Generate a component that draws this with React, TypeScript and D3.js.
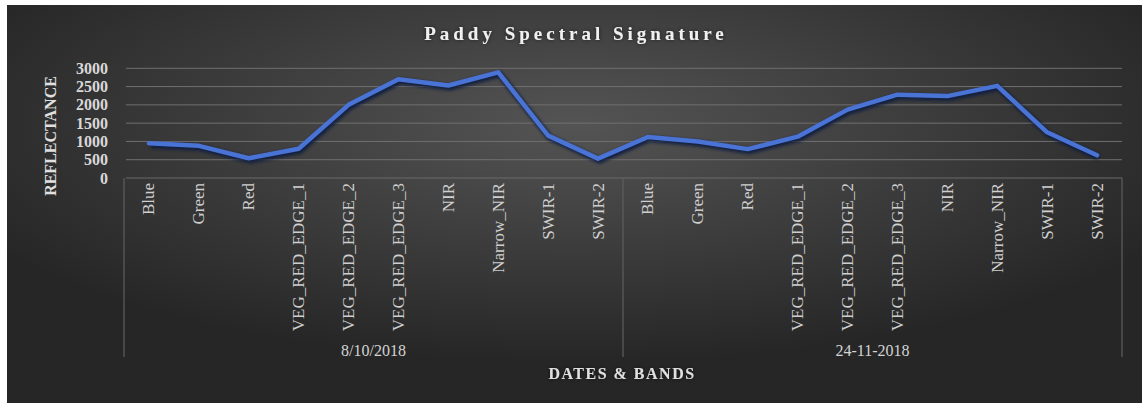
import React from "react";
import * as d3 from "d3";

const bands = ["Blue", "Green", "Red", "VEG_RED_EDGE_1", "VEG_RED_EDGE_2", "VEG_RED_EDGE_3", "NIR", "Narrow_NIR", "SWIR-1", "SWIR-2"];
const dates = ["8/10/2018", "24-11-2018"];
const valuesDate1 = [950, 880, 540, 800, 2000, 2700, 2530, 2890, 1160, 530];
const valuesDate2 = [1120, 1000, 790, 1130, 1870, 2280, 2240, 2520, 1250, 620];
const yTicks = [0, 500, 1000, 1500, 2000, 2500, 3000];
const title = "Paddy Spectral Signature";
const xTitle = "DATES & BANDS";
const yTitle = "REFLECTANCE";

const W = 1142;
const H = 403;
const FONT = "'Liberation Serif', 'Times New Roman', serif";

export default function App() {
  const cats = dates.flatMap((d, di) => bands.map((b, bi) => ({ key: `${di}-${bi}`, band: b, date: d })));
  const values = [...valuesDate1, ...valuesDate2];
  const left = 124, right = 1122, top = 68.3, bottom = 178;
  const x = d3.scaleBand<string>().domain(cats.map((c) => c.key)).range([left, right]).padding(0);
  const y = d3.scaleLinear().domain([0, 3000]).range([bottom, top]);
  const pts = cats.map((c, i) => [x(c.key)! + x.bandwidth() / 2, y(values[i])] as [number, number]);
  const line = d3.line().curve(d3.curveLinear)(pts) || "";
  const groupW = (right - left) / dates.length;
  const axisBottom = 357;

  return (
    <div style={{ position: "absolute", left: 0, top: 0 }}>
      <svg width={W} height={H} style={{ display: "block" }}>
        <defs>
          <radialGradient id="bg" cx="50%" cy="30%" r="60%" gradientUnits="objectBoundingBox">
            <stop offset="0%" stopColor="#545454" />
            <stop offset="100%" stopColor="#262626" />
          </radialGradient>
          <filter id="shadow" x="-5%" y="-20%" width="110%" height="140%">
            <feGaussianBlur stdDeviation="1.5" />
          </filter>
          <filter id="glow" x="-10%" y="-50%" width="120%" height="200%">
            <feGaussianBlur in="SourceAlpha" stdDeviation="2" result="b" />
            <feFlood floodColor="#000" floodOpacity="0.6" />
            <feComposite in2="b" operator="in" result="s" />
            <feMerge>
              <feMergeNode in="s" />
              <feMergeNode in="SourceGraphic" />
            </feMerge>
          </filter>
        </defs>
        <rect x={0} y={0} width={W} height={H} fill="#ffffff" />
        <rect x={7} y={5} width={W - 7} height={H - 5} fill="url(#bg)" />

        <text x={576} y={33} textAnchor="middle" dominantBaseline="central" fontFamily={FONT} fontWeight="bold" fontSize={19} letterSpacing={4} fill="#f0f0f0" filter="url(#glow)">
          {title}
        </text>

        {yTicks.map((t) => (
          <g key={t}>
            <line x1={left + 2} x2={right} y1={y(t)} y2={y(t)} stroke={t === 0 ? "#6a6a6a" : "#707070"} strokeWidth={1} />
            <text x={108} y={y(t)} textAnchor="end" dominantBaseline="central" fontFamily={FONT} fontWeight="bold" fontSize={16} fill="#d9d9d9">
              {t}
            </text>
          </g>
        ))}

        {[0, 1, 2].map((i) => (
          <line key={i} x1={left + i * groupW} x2={left + i * groupW} y1={bottom} y2={axisBottom} stroke="#5e5e5e" strokeWidth={1.2} />
        ))}

        <text transform={`translate(50,136) rotate(-90)`} textAnchor="middle" dominantBaseline="central" fontFamily={FONT} fontWeight="bold" fontSize={16} fill="#e0e0e0">
          {yTitle}
        </text>

        {cats.map((c) => (
          <text key={c.key} transform={`translate(${x(c.key)! + x.bandwidth() / 2},${bottom + 5}) rotate(-90)`} textAnchor="end" dominantBaseline="central" fontFamily={FONT} fontSize={17} fill="#cfcfcf">
            {c.band}
          </text>
        ))}

        {dates.map((d, i) => (
          <text key={d} x={left + groupW * (i + 0.5)} y={350} textAnchor="middle" dominantBaseline="central" fontFamily={FONT} fontSize={16} fill="#d4d4d4">
            {d}
          </text>
        ))}

        <text x={622} y={373} textAnchor="middle" dominantBaseline="central" fontFamily={FONT} fontWeight="bold" fontSize={16} letterSpacing={1.5} fill="#e0e0e0" filter="url(#glow)">
          {xTitle}
        </text>

        <path d={line} fill="none" stroke="#0d1a40" strokeWidth={6} strokeLinejoin="round" transform="translate(1.5,2)" filter="url(#shadow)" opacity={0.9} />
        <path d={line} fill="none" stroke="#4a73d6" strokeWidth={4.5} strokeLinejoin="round" strokeLinecap="round" />
      </svg>
    </div>
  );
}
